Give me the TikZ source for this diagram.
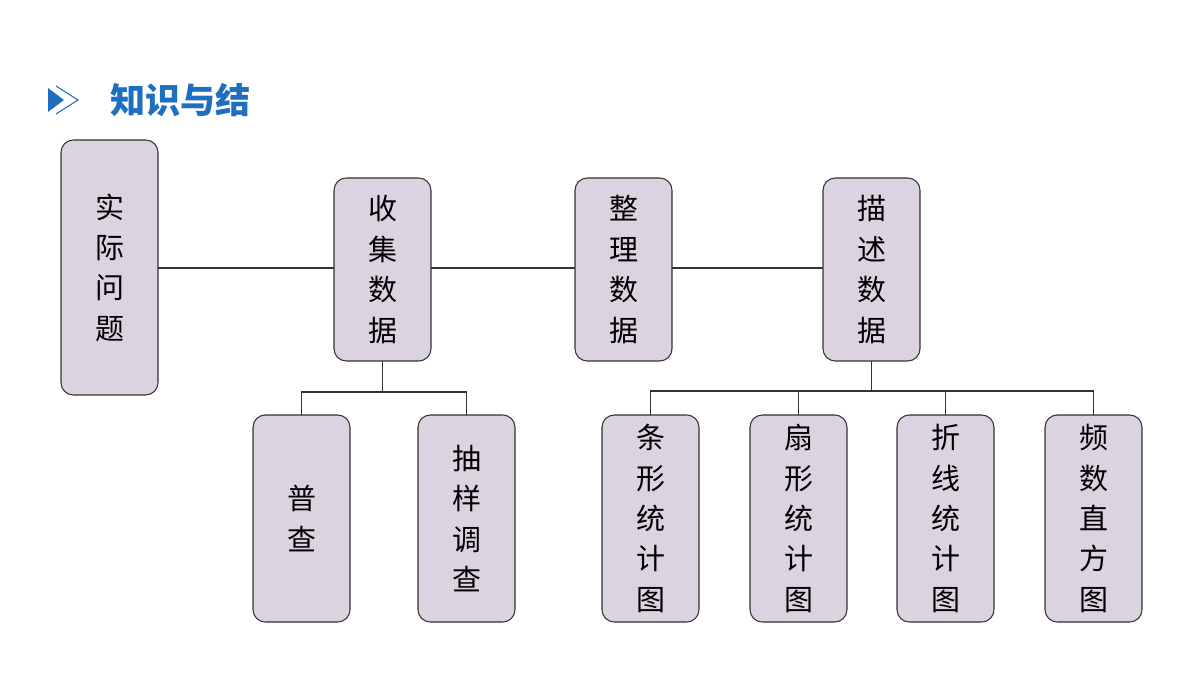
\documentclass[tikz,border=0pt]{standalone}
\usepackage{fontspec}
\newfontfamily\cjk{Noto Sans CJK SC}
\begin{document}
\begin{tikzpicture}[x=0.02cm,y=-0.02cm,
  box/.style={draw=black!80,line width=0.6pt,fill=boxfill,rounded corners=7pt},
  lbl/.style={font=\cjk\fontsize{16.5pt}{23pt}\selectfont,align=center},
  ln/.style={draw=black!80,line width=0.6pt}]
\definecolor{boxfill}{HTML}{DCD3E0}
\definecolor{ttl}{HTML}{1F6FC0}
\useasboundingbox (0,0) rectangle (1200,675);
\fill[ttl] (48,88) -- (64,100) -- (48,112) -- cycle;
\draw[ttl,line width=0.6pt] (56,86) -- (78,100) -- (56,114);
\node[anchor=west,text=ttl,font=\cjk\bfseries\fontsize{20pt}{24pt}\selectfont] (title) at (104,100) {知识与结};
% boxes
\def\bx#1#2#3#4#5#6{\path[box] (#2,#3) rectangle (#4,#5); \node[lbl] (#1) at ({(#2+#4)/2},{(#3+#5)/2}) {#6};
  \coordinate (#1t) at ({(#2+#4)/2},#3); \coordinate (#1b) at ({(#2+#4)/2},#5);
  \coordinate (#1l) at (#2,268); \coordinate (#1r) at (#4,268);}
\bx{a}{61}{140}{158}{395}{实\\际\\问\\题}
\bx{b}{334}{178}{431}{361}{收\\集\\数\\据}
\bx{c}{575}{178}{672}{361}{整\\理\\数\\据}
\bx{d}{823}{178}{920}{361}{描\\述\\数\\据}
\bx{e}{253}{415}{350}{622}{普\\查}
\bx{f}{418}{415}{515}{622}{抽\\样\\调\\查}
\bx{g}{602}{415}{699}{622}{条\\形\\统\\计\\图}
\bx{h}{750}{415}{847}{622}{扇\\形\\统\\计\\图}
\bx{i}{897}{415}{994}{622}{折\\线\\统\\计\\图}
\bx{j}{1045}{415}{1142}{622}{频\\数\\直\\方\\图}
\draw[ln] (ar) -- (bl); \draw[ln] (br) -- (cl); \draw[ln] (cr) -- (dl);
\draw[ln] (bb) -- ++(0,31) coordinate (bm);
\draw[ln] (et) |- (bm) -| (ft);
\draw[ln] (db) -- ++(0,30) coordinate (dm);
\draw[ln] (gt) |- (dm) -| (jt);
\draw[ln] (ht) -- (ht |- dm); \draw[ln] (it) -- (it |- dm);
\end{tikzpicture}
\end{document}
